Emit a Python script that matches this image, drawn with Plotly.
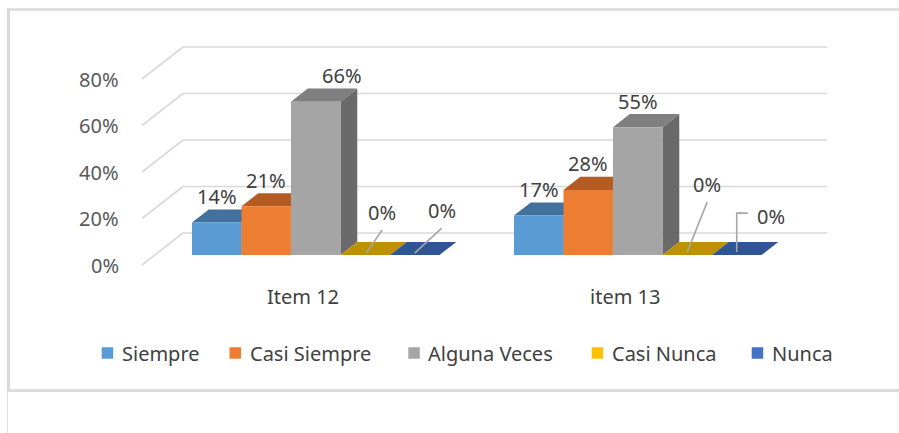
import plotly.graph_objects as go

# ---------------- data ----------------
categories = ["Item 12", "item 13"]
series_names = ["Siempre", "Casi Siempre", "Alguna Veces", "Casi Nunca", "Nunca"]
siempre = [14, 17]
casi_siempre = [21, 28]
alguna_veces = [66, 55]
casi_nunca = [0, 0]
nunca = [0, 0]
y_ticks = [0, 20, 40, 60, 80]
y_tick_labels = ["0%", "20%", "40%", "60%", "80%"]

series_values = [siempre, casi_siempre, alguna_veces, casi_nunca, nunca]

# ---------------- styles ----------------
front_colors = ["#5B9BD5", "#ED7D31", "#A5A5A5", "#FFC000", "#4472C4"]
top_colors = ["#41719C", "#B55B22", "#7F7F7F", "#BF9000", "#2F5597"]
side_colors = ["#36618A", "#9E4F1D", "#6A6A6A", "#A67D00", "#28487F"]
legend_colors = ["#5B9BD5", "#ED7D31", "#A5A5A5", "#FFC000", "#4472C4"]

FONT = "Noto Sans"
FS = 20
W, H = 899, 433
# pixel geometry of the front plane
FRONT_LEFT_PX = 142
ZERO_PX = 265
PX_PER_UNIT = 322.0      # px per category
PX_PER_PCT = 2.325       # px per percent
ML, MR, MT, MB = 132, 61, 40, 158

x0 = -0.5 - (FRONT_LEFT_PX - ML) / PX_PER_UNIT
x1 = -0.5 + (W - MR - FRONT_LEFT_PX) / PX_PER_UNIT
y0 = -(H - MB - ZERO_PX) / PX_PER_PCT
y1 = (ZERO_PX - MT) / PX_PER_PCT

DX = 41 / PX_PER_UNIT    # full depth offset of the back wall (x units)
DY = 32 / PX_PER_PCT     # full depth offset of the back wall (% units)
D0, D1 = 0.31, 0.72      # bar front / back depth fraction
BAR_W = 49.5 / PX_PER_UNIT
BDX = (D1 - D0) * DX
BDY = (D1 - D0) * DY

# label tweaks (pixels)
label_xshift = {(2, 0): 26}
zero_leaders = {
    (3, 0): ([(1, 2), (17, 25)], (17, 43)),
    (4, 0): ([(0, 2), (27, 27)], (27, 45)),
    (3, 1): ([(0, 3), (20, 53)], (20, 71)),
    (4, 1): ([(0, 3), (0, 42), (11, 42)], (34, 39)),
}
legend_square_left = [101.7, 229.5, 408.3, 591.7, 751.7]
LEGEND_Y = 353
SQ = 11.5


def px2paper_x(px):
    return (px - ML) / (W - ML - MR)


def px2paper_y(py):
    return (H - MB - py) / (H - MT - MB)


fig = go.Figure()
shapes = []
annotations = []

# ---------------- back wall + left wall grid ----------------
for t in y_ticks:
    shapes.append(dict(type="line", xref="x", yref="y", layer="below",
                       x0=-0.5 + DX, y0=t + DY, x1=1.5 + DX, y1=t + DY,
                       line=dict(color="#D9D9D9", width=1.6)))
    shapes.append(dict(type="line", xref="x", yref="y", layer="below",
                       x0=-0.5, y0=t, x1=-0.5 + DX, y1=t + DY,
                       line=dict(color="#D9D9D9", width=1.6)))
for t, lab in zip(y_ticks, y_tick_labels):
    annotations.append(dict(x=-0.5, y=t, xref="x", yref="y", text=lab,
                            showarrow=False, xanchor="right", yanchor="middle",
                            xshift=-21, font=dict(family=FONT, size=FS, color="#595959")))

# ---------------- bars ----------------
n = len(series_names)
for g in range(len(categories)):
    for i in range(n):
        v = series_values[i][g]
        xc = g + (i - (n - 1) / 2) * BAR_W + D0 * DX
        xl, xr = xc - BAR_W / 2, xc + BAR_W / 2
        base = D0 * DY
        top = base + v
        if v > 0:
            # side face
            shapes.append(dict(type="path", xref="x", yref="y", layer="below",
                               path=f"M{xr},{base} L{xr},{top} L{xr+BDX},{top+BDY} L{xr+BDX},{base+BDY} Z",
                               fillcolor=side_colors[i], line=dict(width=0)))
        # top face
        shapes.append(dict(type="path", xref="x", yref="y", layer="below",
                           path=f"M{xl},{top} L{xr},{top} L{xr+BDX},{top+BDY} L{xl+BDX},{top+BDY} Z",
                           fillcolor=top_colors[i], line=dict(width=0)))

for i in range(n):
    xs = [g + (i - (n - 1) / 2) * BAR_W + D0 * DX for g in range(len(categories))]
    fig.add_trace(go.Bar(x=xs, y=series_values[i], base=D0 * DY, width=BAR_W,
                         marker=dict(color=front_colors[i], line=dict(width=0)),
                         name=series_names[i], showlegend=False, hoverinfo="skip"))

# ---------------- data labels ----------------
for g in range(len(categories)):
    for i in range(n):
        v = series_values[i][g]
        xc = g + (i - (n - 1) / 2) * BAR_W + D0 * DX
        if (i, g) in zero_leaders:
            pts, (lx, ly) = zero_leaders[(i, g)]
            path = "M" + " L".join(f"{px},{py}" for px, py in pts)
            shapes.append(dict(type="path", xref="x", yref="y", layer="above",
                               xsizemode="pixel", ysizemode="pixel",
                               xanchor=xc, yanchor=D0 * DY, path=path,
                               line=dict(color="#A6A6A6", width=1.6)))
            annotations.append(dict(x=xc, y=D0 * DY, xref="x", yref="y", text=f"{v}%",
                                    showarrow=False, xanchor="center", yanchor="middle",
                                    xshift=lx, yshift=ly,
                                    font=dict(family=FONT, size=FS, color="#404040")))
        else:
            annotations.append(dict(x=xc, y=D1 * DY + v, xref="x", yref="y", text=f"{v}%",
                                    showarrow=False, xanchor="center", yanchor="middle",
                                    xshift=label_xshift.get((i, g), 0), yshift=13,
                                    font=dict(family=FONT, size=FS, color="#404040")))

# ---------------- category labels ----------------
for g, c in enumerate(categories):
    annotations.append(dict(x=g, y=0, xref="x", yref="y", text=c, showarrow=False,
                            xanchor="center", yanchor="middle", yshift=-31,
                            font=dict(family=FONT, size=FS, color="#404040")))

# ---------------- legend ----------------
for i, name in enumerate(series_names):
    lx = legend_square_left[i]
    shapes.append(dict(type="rect", xref="paper", yref="paper",
                       x0=px2paper_x(lx), x1=px2paper_x(lx + SQ),
                       y0=px2paper_y(LEGEND_Y + SQ / 2), y1=px2paper_y(LEGEND_Y - SQ / 2),
                       fillcolor=legend_colors[i], line=dict(width=0)))
    annotations.append(dict(x=px2paper_x(lx + SQ + 6.5), y=px2paper_y(LEGEND_Y),
                            xref="paper", yref="paper", text=name, showarrow=False,
                            xanchor="left", yanchor="middle",
                            font=dict(family=FONT, size=FS, color="#404040")))

# ---------------- chart border ----------------
border = "#D9D9D9"
shapes.append(dict(type="line", xref="paper", yref="paper",
                   x0=px2paper_x(7), x1=px2paper_x(W + 5), y0=px2paper_y(9.5), y1=px2paper_y(9.5),
                   line=dict(color=border, width=2.5)))
shapes.append(dict(type="line", xref="paper", yref="paper",
                   x0=px2paper_x(8.5), x1=px2paper_x(8.5), y0=px2paper_y(8.5), y1=px2paper_y(391),
                   line=dict(color=border, width=3)))
shapes.append(dict(type="line", xref="paper", yref="paper",
                   x0=px2paper_x(7), x1=px2paper_x(W + 5), y0=px2paper_y(390.5), y1=px2paper_y(390.5),
                   line=dict(color="#DCDCDC", width=3)))
shapes.append(dict(type="line", xref="paper", yref="paper",
                   x0=px2paper_x(7.5), x1=px2paper_x(7.5), y0=px2paper_y(392), y1=px2paper_y(H + 5),
                   line=dict(color="#E3E3E3", width=1)))

fig.update_layout(
    width=W, height=H,
    margin=dict(l=ML, r=MR, t=MT, b=MB, pad=0),
    paper_bgcolor="white", plot_bgcolor="white",
    barmode="overlay",
    xaxis=dict(range=[x0, x1], visible=False, fixedrange=True),
    yaxis=dict(range=[y0, y1], visible=False, fixedrange=True),
    shapes=shapes, annotations=annotations,
    showlegend=False,
)

fig.write_html("out.html", config={"displayModeBar": False},
               post_script="document.body.style.margin='0';document.body.style.overflow='hidden';")
